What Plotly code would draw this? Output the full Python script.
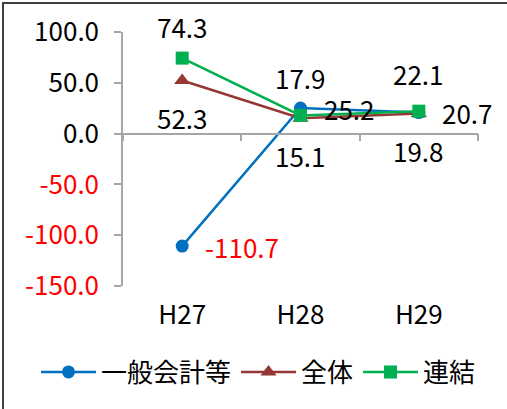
import plotly.graph_objects as go

categories = ["H27", "H28", "H29"]
ippan = [-110.7, 25.2, 20.7]
zentai = [52.3, 15.1, 19.8]
renketsu = [74.3, 17.9, 22.1]
series_names = ["一般会計等", "全体", "連結"]
y_ticks = [100, 50, 0, -50, -100, -150]

FONT = "Noto Sans CJK JP, sans-serif"
FS = 26
colors = ["#0070C0", "#953735", "#00B050"]
symbols = ["circle", "triangle-up", "square"]

PW, PH = 355, 254  # plot area size in px

fig = go.Figure()
for name, vals, col, sym in zip(series_names, [ippan, zentai, renketsu], colors, symbols):
    fig.add_trace(go.Scatter(
        x=categories, y=vals, name=name, mode="lines+markers",
        line=dict(color=col, width=2.5),
        marker=dict(symbol=sym, size=13 if sym != "triangle-up" else 14, color=col),
        xaxis="x", yaxis="y", cliponaxis=False,
    ))

# dummy trace for bottom category labels
fig.add_trace(go.Scatter(x=categories, y=[None] * 3, xaxis="x2", yaxis="y",
                         showlegend=False, hoverinfo="skip", mode="markers"))

def fmt(v):
    return f"{v:.1f}"

def col_of(v):
    return "red" if v < 0 else "black"

ann = []
for c, v in zip(categories, ippan):
    ann.append(dict(x=c, y=v, text=fmt(v), xanchor="left", yanchor="middle",
                    xshift=21, showarrow=False, font=dict(color=col_of(v))))
for i, (c, v) in enumerate(zip(categories, renketsu)):
    ann.append(dict(x=c, y=v, text=fmt(v), xanchor="center", yanchor="middle",
                    yshift=32 if i == 0 else 38, showarrow=False, font=dict(color=col_of(v))))
for c, v in zip(categories, zentai):
    ann.append(dict(x=c, y=v, text=fmt(v), xanchor="center", yanchor="middle",
                    yshift=-37, showarrow=False, font=dict(color=col_of(v))))

ticktext = [(f'<span style="color:red">{t:.1f}</span>' if t < 0 else f"{t:.1f}") for t in y_ticks]

fig.update_layout(
    width=507, height=409,
    margin=dict(l=123, r=29, t=32, b=123, autoexpand=False),
    paper_bgcolor="white", plot_bgcolor="white",
    font=dict(family=FONT, size=FS, color="black"),
    showlegend=True,
    legend=dict(orientation="h", x=(36 - 123) / PW, xanchor="left",
                y=(286 - 372) / PH, yanchor="middle",
                font=dict(size=FS), itemwidth=55, tracegroupgap=0),
    xaxis=dict(type="category", anchor="free", position=0.6, showline=True,
               linecolor="#A6A6A6", linewidth=1.5, ticks="outside", ticklen=7,
               tickcolor="#A6A6A6", tickwidth=1.5, tickson="boundaries",
               showticklabels=False, showgrid=False, zeroline=False,
               range=[-0.5, 2.5], automargin=False),
    xaxis2=dict(type="category", overlaying="x", anchor="y", side="bottom",
                matches="x", showline=False, ticks="", showgrid=False,
                showticklabels=True, ticklabelstandoff=11, zeroline=False,
                automargin=False),
    yaxis=dict(range=[-150, 100], tickmode="array", tickvals=y_ticks, ticktext=ticktext,
               showline=True, linecolor="#A6A6A6", linewidth=1.5, ticks="outside",
               ticklen=7, tickcolor="#A6A6A6", tickwidth=1.5, showgrid=False,
               zeroline=False, ticklabelstandoff=10, automargin=False),
    annotations=ann,
    shapes=[dict(type="rect", xref="paper", yref="paper",
                 x0=(3 - 123) / PW, x1=(520 - 123) / PW,
                 y0=(286 - 420) / PH, y1=(286 - 3) / PH,
                 line=dict(color="#404040", width=2), layer="below")],
)

fig.write_html("out.html", config={"displayModeBar": False},
               post_script="document.body.style.margin='0';")
